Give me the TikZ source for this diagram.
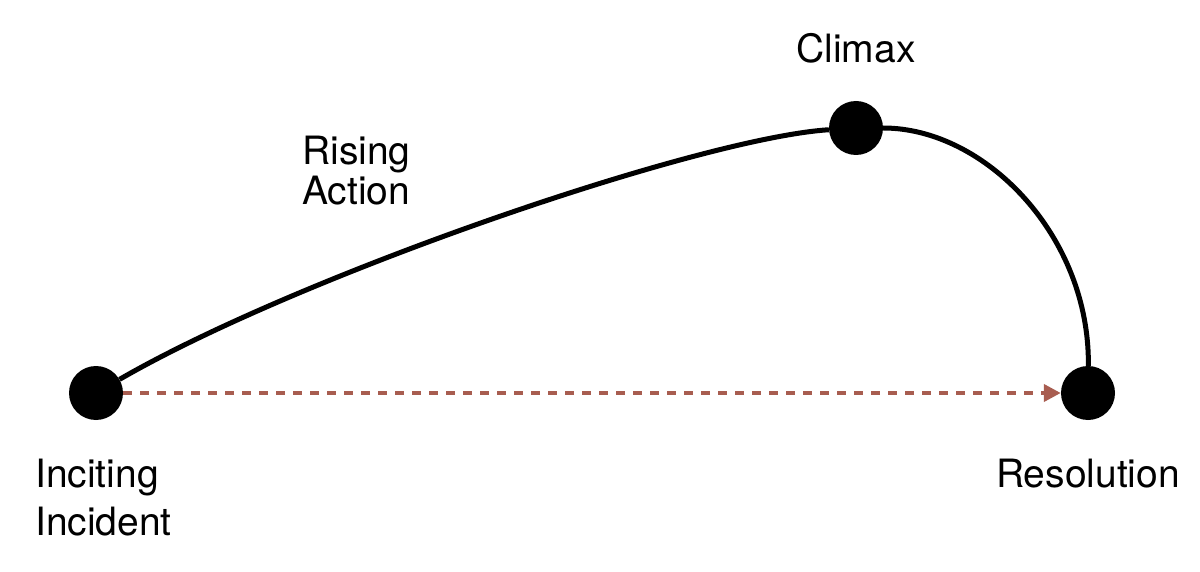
\documentclass[tikz,border=0pt]{standalone}
\usepackage{fontspec}
\setmainfont{TeX Gyre Heros}
\usetikzlibrary{arrows.meta}
\definecolor{dashbrown}{RGB}{168,93,80}
\tikzset{
  dot/.style={circle, fill=black, inner sep=0pt, minimum size=54pt},
  lbl/.style={anchor=base west, inner sep=0pt, font=\fontsize{39}{47}\selectfont},
  arc/.style={line width=5pt, black},
  flow/.style={line width=4pt, dashbrown, dash pattern=on 9pt off 8pt, -{Triangle[length=17pt,width=17pt]}}
}
\begin{document}
\begin{tikzpicture}[x=1pt,y=-1pt]
\useasboundingbox (0,0) rectangle (1200,572);
\node[dot] (inc) at (96,393) {};
\node[dot] (cli) at (856,128) {};
\node[dot] (res) at (1088,393) {};
\draw[arc] (inc) .. controls (300,275) and (700,138) .. (cli);
\draw[arc] (cli) .. controls (985,128) and (1090,236) .. (res);
\draw[flow] (inc) -- (res);
\node[lbl, anchor=base] (tcli) at (856,63) {Climax};
\node[lbl] (tris) at (302,165) {Rising};
\node[lbl] (tact) at (302,205) {Action};
\node[lbl] (tinc1) at (35,487) {Inciting};
\node[lbl] (tinc2) at (35,535) {Incident};
\node[lbl, anchor=base] (tres) at (1088,487) {Resolution};
\end{tikzpicture}
\end{document}
